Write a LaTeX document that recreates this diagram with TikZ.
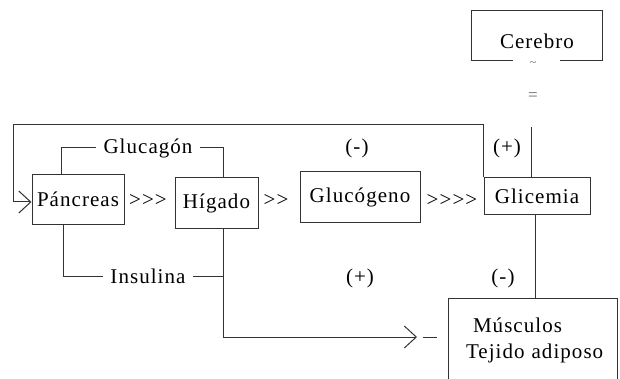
\documentclass[tikz,border=0pt]{standalone}
\usepackage{fontspec}
\setmainfont{Liberation Serif}[LetterSpace=5]
\usetikzlibrary{arrows.meta,positioning,calc}

\begin{document}
\begin{tikzpicture}[
    x=1pt, y=-1pt,
    font=\fontsize{21}{26}\selectfont,
    box/.style={
        rectangle, draw=black!80, line width=1pt,
        inner sep=0pt, align=center
    },
    lbl/.style={inner sep=0pt},
    ln/.style={draw=black!80, line width=1pt},
    arr/.style={ln, -{Straight Barb[length=12pt, width=22pt, line width=1pt]}},
]
\useasboundingbox (0,0) rectangle (620,379);

\node[box, draw=none, minimum width=130pt, text height=38pt, text depth=11pt] (cerebro) at (537,35.5) {Cerebro};
\draw[ln] ([xshift=41pt]cerebro.south west) -- (cerebro.south west) -- (cerebro.north west)
    -- (cerebro.north east) -- (cerebro.south east) -- ([xshift=-43pt]cerebro.south east);
\node[lbl, text=black!60, font=\fontsize{12}{12}\selectfont] (tilde) at (533,64) {\textasciitilde};
\node[lbl, text=black!60, font=\fontsize{17}{20}\selectfont] (equal) at (533,97) {=};

\node[box, minimum width=92pt, minimum height=49pt] (pancreas) at (78,199.5) {Páncreas};
\node[box, minimum width=83pt, minimum height=50pt] (higado) at (216.5,203) {Hígado};
\node[box, minimum width=120pt, minimum height=50pt] (glucogeno) at (360,197) {Glucógeno};
\node[box, minimum width=106pt, minimum height=36pt] (glicemia) at (537,196) {Glicemia};
\node[box, text width=169pt, align=left, minimum height=84pt] (musculos) at (532.5,340)
    {\hspace*{25pt}Músculos\\\hspace*{18pt}Tejido adiposo};

\foreach \n/\t/\x in {gt1/{>{}>{}>}/148, gt2/{>{}>}/276, gt3/{>{}>{}>{}>}/452}
  \node[lbl] (\n) at (\x,200) {\t};

\node[lbl, inner xsep=7pt] (glucagon) at (148,148) {Glucagón};
\node[lbl, inner xsep=7pt] (insulina) at (148,276) {Insulina};

\node[lbl] (sgn1) at (357,148) {(-)};
\node[lbl] (sgn2) at (507,148) {(+)};
\node[lbl] (sgn3) at (360,278) {(+)};
\node[lbl] (sgn4) at (503,278) {(-)};

% hormone lines
\draw[ln] (glucagon.west) -| ([xshift=-17pt]pancreas.north);
\draw[ln] (glucagon.east) -| ([xshift=6.5pt]higado.north);
\draw[ln] (insulina.west) -| ([xshift=-15pt]pancreas.south);
\coordinate (split) at ([xshift=6.5pt]higado.south);
\draw[ln] (insulina.east) -- (insulina.east -| split);
\coordinate (tip) at (417,337);
\draw[arr] (split) |- (tip);
\coordinate (dash) at (423,337);
\draw[ln] (dash) -- ++(14,0);

% feedback
\coordinate (fb) at (13,125);
\draw[arr] (glicemia.north west) |- (fb) |- ([yshift=-2.5pt]pancreas.west);
\coordinate (cb) at (531,127);
\draw[ln] (glicemia.north -| cb) -- (cb);
\draw[ln] ([xshift=-2pt]glicemia.south) -- ([xshift=-2pt]glicemia.south |- musculos.north);

\end{tikzpicture}
\end{document}
